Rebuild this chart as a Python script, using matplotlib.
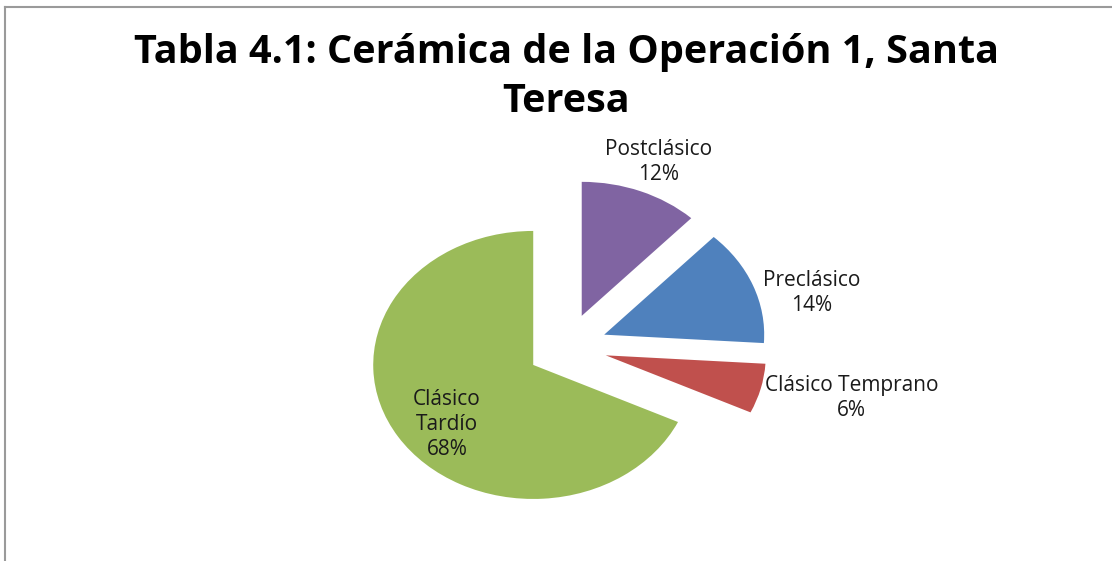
import matplotlib
matplotlib.use("Agg")
from matplotlib import pyplot as plt
from matplotlib.lines import Line2D

plt.rcParams['font.family'] = ['Open Sans', 'DejaVu Sans']

# datos de la cerámica (porcentajes)
periodos = ['Postclásico', 'Preclásico', 'Clásico Temprano', 'Clásico Tardío']
porcentajes = [12, 14, 6, 68]
colores = ['#8064A2', '#4F81BD', '#C0504D', '#9BBB59']

# posiciones de las etiquetas (coordenadas del eje)
pos_etiquetas = [(0.57, 1.38), (1.53, 0.40), (1.78, -0.38), (-0.75, -0.58)]
etiquetas_texto = ['Postclásico', 'Preclásico', 'Clásico Temprano', 'Clásico\nTardío']

fig = plt.figure(figsize=(11.12, 5.61), dpi=100)
ax = fig.add_axes([0, 0, 1, 1])

ax.pie(porcentajes, colors=colores, startangle=90, counterclock=False,
       explode=[0.25] * len(porcentajes), radius=1,
       wedgeprops=dict(linewidth=0))

# el gráfico original está algo estirado en horizontal
ax.set_aspect('auto')
ax.set_xlim(-567 / 160, (1112 - 567) / 160)
ax.set_ylim(-(561 - 347) / 134, 347 / 134)
ax.axis('off')

for nombre, v, (x, y) in zip(etiquetas_texto, porcentajes, pos_etiquetas):
    ax.text(x, y, f"{nombre}\n{v}%", ha='center', va='center',
            fontsize=15, color='#1a1a1a', linespacing=1.25)

fig.text(566 / 1112, 1 - 77 / 561,
         'Tabla 4.1: Cerámica de la Operación 1, Santa\nTeresa',
         ha='center', va='center', fontsize=28.5, fontweight='bold',
         linespacing=1.35, color='black')

# marco del gráfico
fig.add_artist(Line2D([5 / 1112, 5 / 1112], [0, 1 - 7 / 561],
                      transform=fig.transFigure, color='#9a9a9a', lw=1.5))
fig.add_artist(Line2D([5 / 1112, 1], [1 - 7 / 561, 1 - 7 / 561],
                      transform=fig.transFigure, color='#9a9a9a', lw=1.5))

fig.savefig('out.png', dpi=100)
